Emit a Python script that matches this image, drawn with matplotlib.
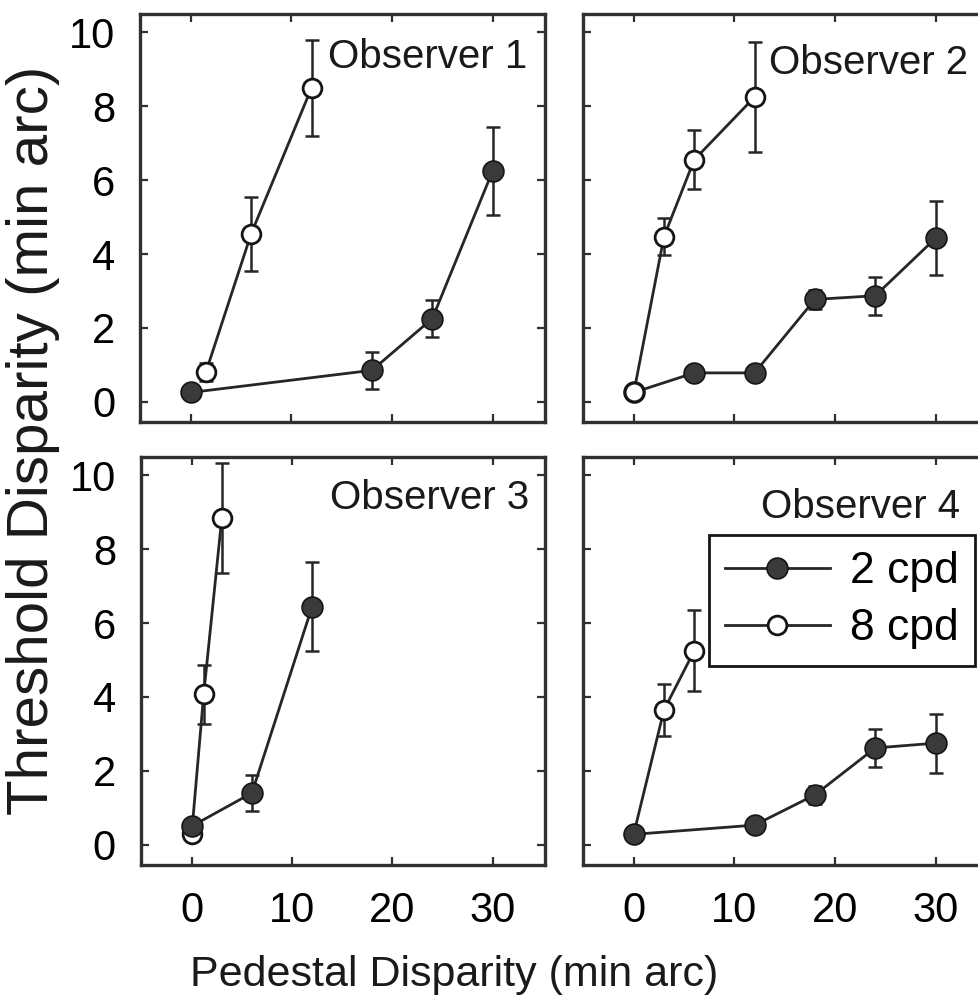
import matplotlib
matplotlib.use("Agg")
import matplotlib.pyplot as plt
import numpy as np

plt.rcParams['font.family'] = ['Liberation Sans', 'DejaVu Sans']

# ---- data ----
observers = ["Observer 1", "Observer 2", "Observer 3", "Observer 4"]
series_labels = ["2 cpd", "8 cpd"]

x_2cpd = [[0, 18, 24, 30], [0, 6, 12, 18, 24, 30], [0, 6, 12], [0, 12, 18, 24, 30]]
y_2cpd = [[0.25, 0.85, 2.25, 6.25], [0.25, 0.78, 0.78, 2.77, 2.87, 4.43],
          [0.5, 1.4, 6.45], [0.28, 0.53, 1.35, 2.62, 2.75]]
e_2cpd = [[0, 0.5, 0.5, 1.2], [0, 0, 0, 0.25, 0.52, 1.0],
          [0, 0.5, 1.2], [0, 0, 0.25, 0.52, 0.8]]

x_8cpd = [[1.5, 6, 12], [0, 3, 6, 12], [0, 1.2, 3], [0, 3, 6]]
y_8cpd = [[0.8, 4.55, 8.5], [0.25, 4.47, 6.55, 8.25], [0.3, 4.08, 8.85], [0.3, 3.65, 5.25]]
e_8cpd = [[0.25, 1.0, 1.3], [0, 0.5, 0.8, 1.5], [0, 0.8, 1.5], [0, 0.7, 1.1]]

open_on_top = [True, True, False, False]

xticks = [0, 10, 20, 30]
yticks = [0, 2, 4, 6, 8, 10]

# ---- figure ----
W, H = 979, 1005
fig = plt.figure(figsize=(W / 100, H / 100), dpi=100)

# axes boxes in pixels (left, top, width, height)
boxes = [(140, 14, 405, 408), (583, 14, 405, 408),
         (141, 457, 404, 408), (583, 457, 405, 408)]
obs_pos = [(0.955, 0.895), (0.95, 0.88), (0.96, 0.90), (0.93, 0.877)]

line_c = '#262626'
fill_c = '#3a3a3a'
spine_c = '#303030'

for i in range(4):
    l, t, w, h = boxes[i]
    ax = fig.add_axes([l / W, 1 - (t + h) / H, w / W, h / H])
    ax.set_xlim(-5.05, 35.2)
    ax.set_ylim(-0.55, 10.5)
    ax.set_xticks(xticks)
    ax.set_yticks(yticks)
    ax.tick_params(direction='in', top=True, right=True, length=6, width=1.6,
                   color=spine_c, labelsize=30)
    ax.tick_params(axis='y', pad=18)
    ax.tick_params(axis='x', pad=19)
    if i < 2:
        ax.tick_params(labelbottom=False)
    if i % 2 == 1:
        ax.tick_params(labelleft=False)
    for s in ax.spines.values():
        s.set_linewidth(2.4)
        s.set_color(spine_c)

    def draw_closed(z):
        xs = np.array(x_2cpd[i]); ys = np.array(y_2cpd[i]); es = np.array(e_2cpd[i])
        m = es > 0
        ax.errorbar(xs[m], ys[m], yerr=es[m], fmt='none', ecolor=line_c,
                    elinewidth=1.8, capsize=5, capthick=1.8, zorder=z)
        ax.plot(xs, ys, '-o', color=line_c, lw=2.0, ms=15, mfc=fill_c,
                mec='#151515', mew=1.2, zorder=z + 0.5,
                label=series_labels[0])

    def draw_open(z):
        xs = np.array(x_8cpd[i]); ys = np.array(y_8cpd[i]); es = np.array(e_8cpd[i])
        m = es > 0
        ax.errorbar(xs[m], ys[m], yerr=es[m], fmt='none', ecolor=line_c,
                    elinewidth=1.8, capsize=5, capthick=1.8, zorder=z)
        ax.plot(xs, ys, '-o', color=line_c, lw=2.0, ms=13.5, mfc='white',
                mec='#151515', mew=2.0, zorder=z + 0.5,
                label=series_labels[1])

    if open_on_top[i]:
        draw_closed(2); draw_open(4)
    else:
        draw_open(2); draw_closed(4)

    ax.text(obs_pos[i][0], obs_pos[i][1], observers[i], transform=ax.transAxes,
            ha='right', va='center', fontsize=29, color='#1a1a1a')

    if i == 3:
        handles, labels = ax.get_legend_handles_labels()
        order = [labels.index(series_labels[0]), labels.index(series_labels[1])]
        leg = ax.legend([handles[k] for k in order], [labels[k] for k in order],
                        loc='upper right', bbox_to_anchor=(0.968, 0.809),
                        fontsize=32, frameon=True, fancybox=False,
                        handlelength=2.35, handletextpad=0.45, borderpad=0.37,
                        labelspacing=0.36, borderaxespad=0)
        leg.get_frame().set_edgecolor('#151515')
        leg.get_frame().set_linewidth(2.0)
        leg.get_frame().set_alpha(1)

fig.text(33 / W, 1 - 440 / H, "Threshold Disparity (min arc)", rotation=90,
         ha='center', va='center', fontsize=42, color='#1a1a1a')
fig.text(454 / W, 1 - 975 / H, "Pedestal Disparity (min arc)",
         ha='center', va='center', fontsize=31, color='#1a1a1a')

fig.savefig("out.png", dpi=100)
